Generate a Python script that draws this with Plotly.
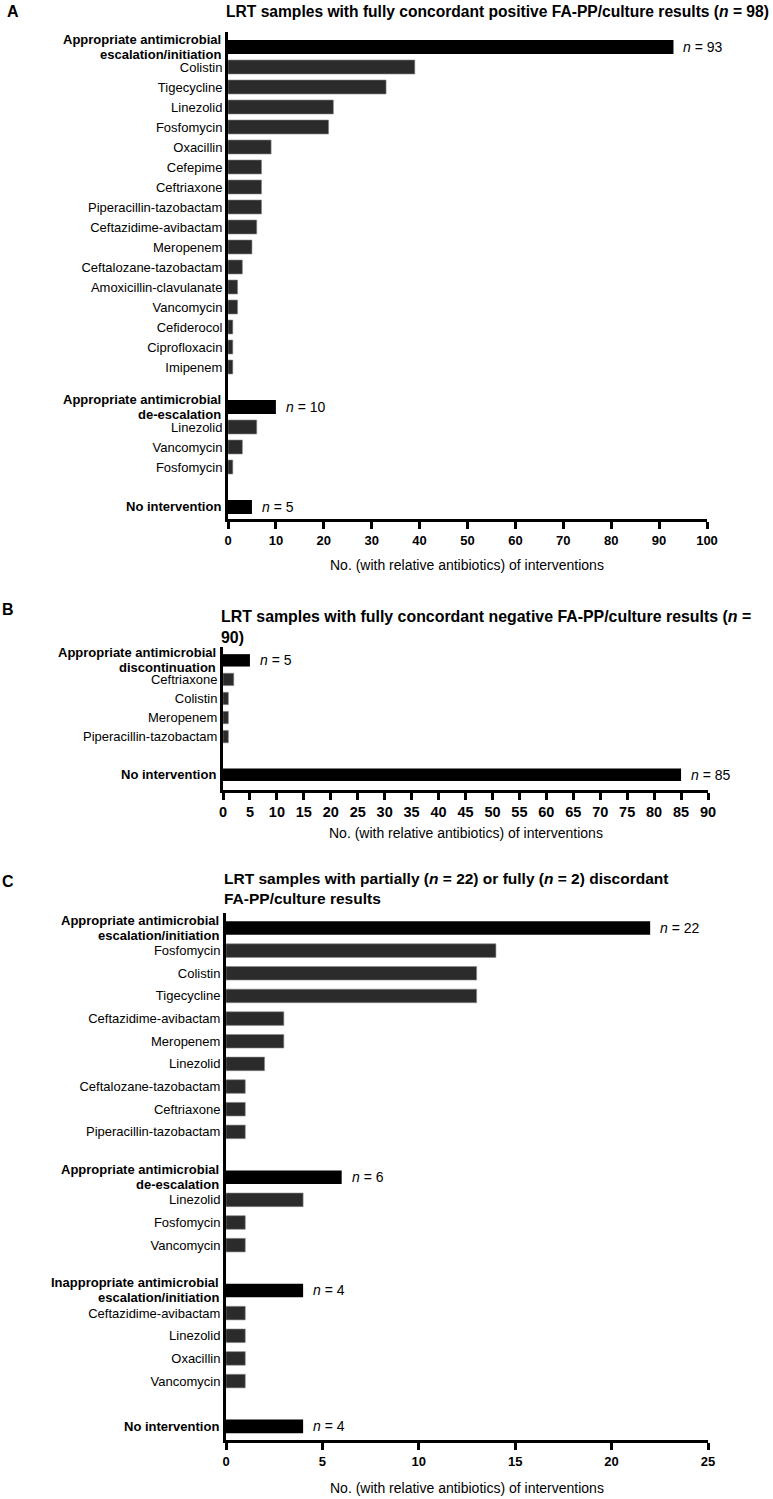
import plotly.graph_objects as go

# ---- panel A: fully concordant positive (n = 98)
a_heads = ["Appropriate antimicrobial<br>escalation/initiation",
           "Appropriate antimicrobial<br>de-escalation",
           "No intervention"]
a_head_n = [93, 10, 5]
a_esc_drugs = ["Colistin", "Tigecycline", "Linezolid", "Fosfomycin", "Oxacillin",
               "Cefepime", "Ceftriaxone", "Piperacillin-tazobactam",
               "Ceftazidime-avibactam", "Meropenem", "Ceftalozane-tazobactam",
               "Amoxicillin-clavulanate", "Vancomycin", "Cefiderocol",
               "Ciprofloxacin", "Imipenem"]
a_esc_vals = [39, 33, 22, 21, 9, 7, 7, 7, 6, 5, 3, 2, 2, 1, 1, 1]
a_deesc_drugs = ["Linezolid", "Vancomycin", "Fosfomycin"]
a_deesc_vals = [6, 3, 1]

# ---- panel B: fully concordant negative (n = 90)
b_heads = ["Appropriate antimicrobial<br>discontinuation", "No intervention"]
b_head_n = [5, 85]
b_disc_drugs = ["Ceftriaxone", "Colistin", "Meropenem", "Piperacillin-tazobactam"]
b_disc_vals = [2, 1, 1, 1]

# ---- panel C: partially / fully discordant
c_heads = ["Appropriate antimicrobial<br>escalation/initiation",
           "Appropriate antimicrobial<br>de-escalation",
           "Inappropriate antimicrobial<br>escalation/initiation",
           "No intervention"]
c_head_n = [22, 6, 4, 4]
c_esc_drugs = ["Fosfomycin", "Colistin", "Tigecycline", "Ceftazidime-avibactam",
               "Meropenem", "Linezolid", "Ceftalozane-tazobactam", "Ceftriaxone",
               "Piperacillin-tazobactam"]
c_esc_vals = [14, 13, 13, 3, 3, 2, 1, 1, 1]
c_deesc_drugs = ["Linezolid", "Fosfomycin", "Vancomycin"]
c_deesc_vals = [4, 1, 1]
c_inapp_drugs = ["Ceftazidime-avibactam", "Linezolid", "Oxacillin", "Vancomycin"]
c_inapp_vals = [1, 1, 1, 1]

panels = [
    dict(heads=a_heads, n=a_head_n,
         drugs=[a_esc_drugs, a_deesc_drugs, []], vals=[a_esc_vals, a_deesc_vals, []],
         x0=228, x1=707, top=32, bot=519, xmax=100, dtick=10, pad=(0.75, 0.6),
         width=0.7, tsize=13, title_size=15.6,
         title="LRT samples with fully concordant positive FA-PP/culture results (<i>n</i> = 98)",
         title_y=12, letter="A", letter_xy=(13, 12), xtitle_y=565),
    dict(heads=b_heads, n=b_head_n,
         drugs=[b_disc_drugs, []], vals=[b_disc_vals, []],
         x0=223, x1=708, top=647, bot=790, xmax=90, dtick=5, pad=(0.7, 0.8),
         width=0.65, tsize=14.5, title_size=15.9,
         title="LRT samples with fully concordant negative FA-PP/culture results (<i>n</i> =<br>90)",
         title_y=627, letter="B", letter_xy=(8, 609), xtitle_y=833),
    dict(heads=c_heads, n=c_head_n,
         drugs=[c_esc_drugs, c_deesc_drugs, c_inapp_drugs, []],
         vals=[c_esc_vals, c_deesc_vals, c_inapp_vals, []],
         x0=226, x1=708, top=913, bot=1440, xmax=25, dtick=5, pad=(0.66, 0.6),
         width=0.6, tsize=13, title_size=15.5,
         title="LRT samples with partially (<i>n</i> = 22) or fully (<i>n</i> = 2) discordant<br>FA-PP/culture results",
         title_y=888, letter="C", letter_xy=(8, 881), xtitle_y=1488),
]

W, H = 773, 1499
FONT = "Liberation Sans, Arial, sans-serif"

fig = go.Figure()
annotations = []
layout = {}

for k, p in enumerate(panels, start=1):
    sfx = "" if k == 1 else str(k)
    # assign row slots: header, its drugs, then one blank slot
    head_y, item_y, item_v = [], [], []
    tickvals, ticktext = [], []
    pos = 0
    for head, nval, drugs, vals in zip(p["heads"], p["n"], p["drugs"], p["vals"]):
        head_y.append(pos)
        pos += 1
        for d, v in zip(drugs, vals):
            item_y.append(pos)
            item_v.append(v)
            tickvals.append(pos)
            ticktext.append(d)
            pos += 1
        pos += 1
    last = pos - 2

    fig.add_trace(go.Bar(x=item_v, y=item_y, orientation="h", width=p["width"],
                         marker=dict(color="#2b2b2b", line=dict(color="#8a8a8a", width=0.6)),
                         xaxis="x" + sfx, yaxis="y" + sfx, showlegend=False))
    fig.add_trace(go.Bar(x=p["n"], y=head_y, orientation="h", width=p["width"],
                         marker=dict(color="#000000", line=dict(width=0)),
                         xaxis="x" + sfx, yaxis="y" + sfx, showlegend=False))

    for head, nval, yv in zip(p["heads"], p["n"], head_y):
        annotations.append(dict(x=nval, y=yv, xref="x" + sfx, yref="y" + sfx,
                                text="<i>n</i> = %d" % nval, showarrow=False,
                                xanchor="left", xshift=8,
                                font=dict(family=FONT, size=14, color="black")))
        # bold group label, lines packed tighter than plotly's default line height
        lines = head.split("<br>")
        shifts = [0] if len(lines) == 1 else [7.5, -7.5]
        for line, sh in zip(lines, shifts):
            annotations.append(dict(x=(p["x0"] - 5) / W, y=yv, xref="paper", yref="y" + sfx,
                                    text="<b>" + line + "</b>", showarrow=False,
                                    xanchor="right", yanchor="middle", yshift=sh,
                                    font=dict(family=FONT, size=13, color="black")))

    layout["xaxis" + sfx] = dict(
        domain=[p["x0"] / W, p["x1"] / W], anchor="y" + sfx, automargin=False,
        range=[0, p["xmax"]], dtick=p["dtick"], tick0=0,
        showgrid=False, zeroline=False, showline=True, linecolor="black", linewidth=3,
        ticks="outside", ticklen=7, tickwidth=3, tickcolor="black",
        tickfont=dict(family=FONT, size=p["tsize"], color="black", weight="bold"))
    layout["yaxis" + sfx] = dict(
        domain=[1 - p["bot"] / H, 1 - p["top"] / H], anchor="x" + sfx, automargin=False,
        range=[last + p["pad"][1], -p["pad"][0]],
        tickvals=tickvals, ticktext=ticktext,
        showgrid=False, zeroline=False, showline=True, linecolor="black", linewidth=3,
        ticks="", tickfont=dict(family=FONT, size=13, color="black"))

    annotations.append(dict(x=(p["x0"] - 4) / W, y=1 - p["title_y"] / H,
                            xref="paper", yref="paper", text="<b>" + p["title"] + "</b>",
                            showarrow=False, xanchor="left", yanchor="middle", align="left",
                            font=dict(family=FONT, size=p["title_size"], color="black")))
    annotations.append(dict(x=p["letter_xy"][0] / W, y=1 - p["letter_xy"][1] / H,
                            xref="paper", yref="paper", text="<b>" + p["letter"] + "</b>",
                            showarrow=False, xanchor="center", yanchor="middle",
                            font=dict(family=FONT, size=16, color="black")))
    annotations.append(dict(x=(p["x0"] + p["x1"]) / 2 / W, y=1 - p["xtitle_y"] / H,
                            xref="paper", yref="paper",
                            text="No. (with relative antibiotics) of interventions",
                            showarrow=False, xanchor="center", yanchor="middle",
                            font=dict(family=FONT, size=14, color="black")))

fig.update_layout(width=W, height=H, margin=dict(l=0, r=0, t=0, b=0, autoexpand=False),
                  plot_bgcolor="white", paper_bgcolor="white",
                  barmode="overlay", annotations=annotations, **layout)

# page body has a default margin; drop it so the figure sits at the window origin
fig.write_html("out.html",
               config={"displayModeBar": False, "responsive": False},
               post_script="document.body.style.margin='0';document.body.style.overflow='hidden';")
